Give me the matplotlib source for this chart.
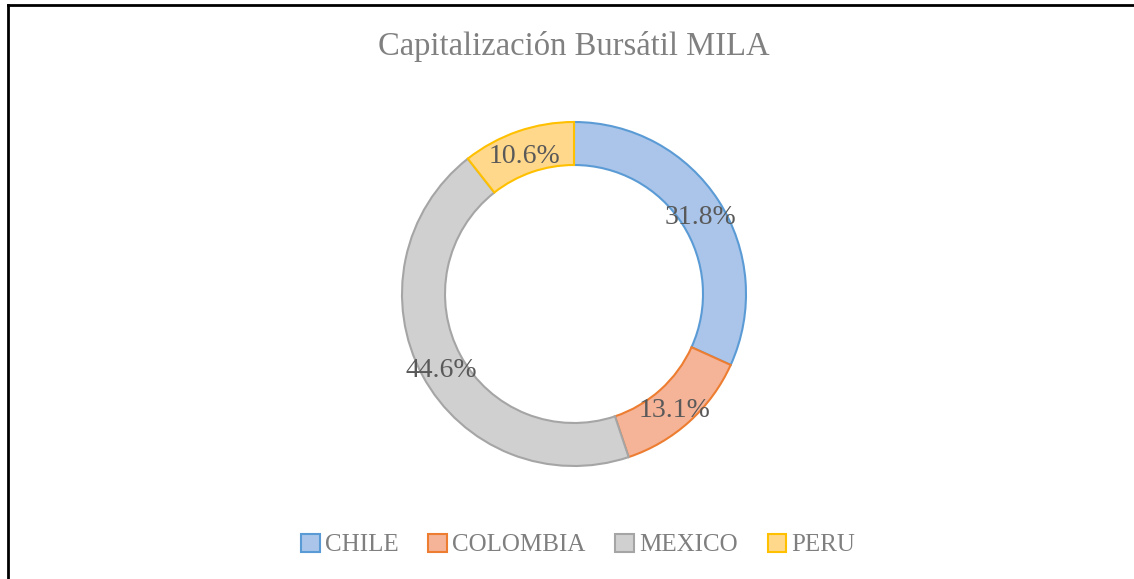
import matplotlib
matplotlib.use("Agg")
import matplotlib.pyplot as plt
from matplotlib.patches import Patch
from matplotlib.lines import Line2D
import numpy as np

plt.rcParams['font.family'] = ['Liberation Serif', 'DejaVu Serif']

paises = ["CHILE", "COLOMBIA", "MEXICO", "PERU"]
capitalizacion = [31.8, 13.1, 44.6, 10.6]
etiquetas = ["31.8%", "13.1%", "44.6%", "10.6%"]

relleno = ["#AAC5E9", "#F5B398", "#D0D0D0", "#FFD88C"]
borde = ["#5B9BD5", "#ED7D31", "#A5A5A5", "#FFC000"]

W, H = 1134, 579
fig = plt.figure(figsize=(W / 100, H / 100), dpi=100)

cx, cy, r = 574, 579 - 294, 172
ax = fig.add_axes([(cx - r) / W, (cy - r) / H, 2 * r / W, 2 * r / H])

wedges, textos = ax.pie(capitalizacion, colors=relleno, startangle=90,
                        counterclock=False, radius=1,
                        wedgeprops=dict(width=0.25, linewidth=1.5))
for w, c in zip(wedges, borde):
    w.set_edgecolor(c)

# etiquetas en el centro del anillo
total = sum(capitalizacion)
ang = 90
for v, t in zip(capitalizacion, etiquetas):
    medio = ang - v / total * 360 / 2
    ang -= v / total * 360
    x = 0.875 * np.cos(np.radians(medio))
    y = 0.875 * np.sin(np.radians(medio)) - 0.03
    ax.text(x, y, t, ha="center", va="center", fontsize=20, color="#595959")

ax.set_xlim(-1, 1)
ax.set_ylim(-1, 1)
ax.set_aspect("equal")
ax.axis("off")

fig.text(574 / W, 1 - 46 / H, "Capitalización Bursátil MILA", ha="center",
         va="center", fontsize=23.5, color="#808080")

handles = [Patch(facecolor=f, edgecolor=b, linewidth=1.5) for f, b in zip(relleno, borde)]
fig.legend(handles, paises, loc="center", bbox_to_anchor=(578 / W, 1 - 545 / H),
           ncol=4, frameon=False, fontsize=18, labelcolor="#7F7F7F",
           handlelength=0.75, handleheight=0.75, handletextpad=0.2,
           columnspacing=1.2)

# marco (solo izquierda y arriba)
fig.add_artist(Line2D([7.5 / W, 7.5 / W], [0, 1 - 4.5 / H], color="black", lw=2))
fig.add_artist(Line2D([7.5 / W, 1], [1 - 4.5 / H, 1 - 4.5 / H], color="black", lw=2))

fig.savefig("out.png", dpi=100, facecolor="white")
